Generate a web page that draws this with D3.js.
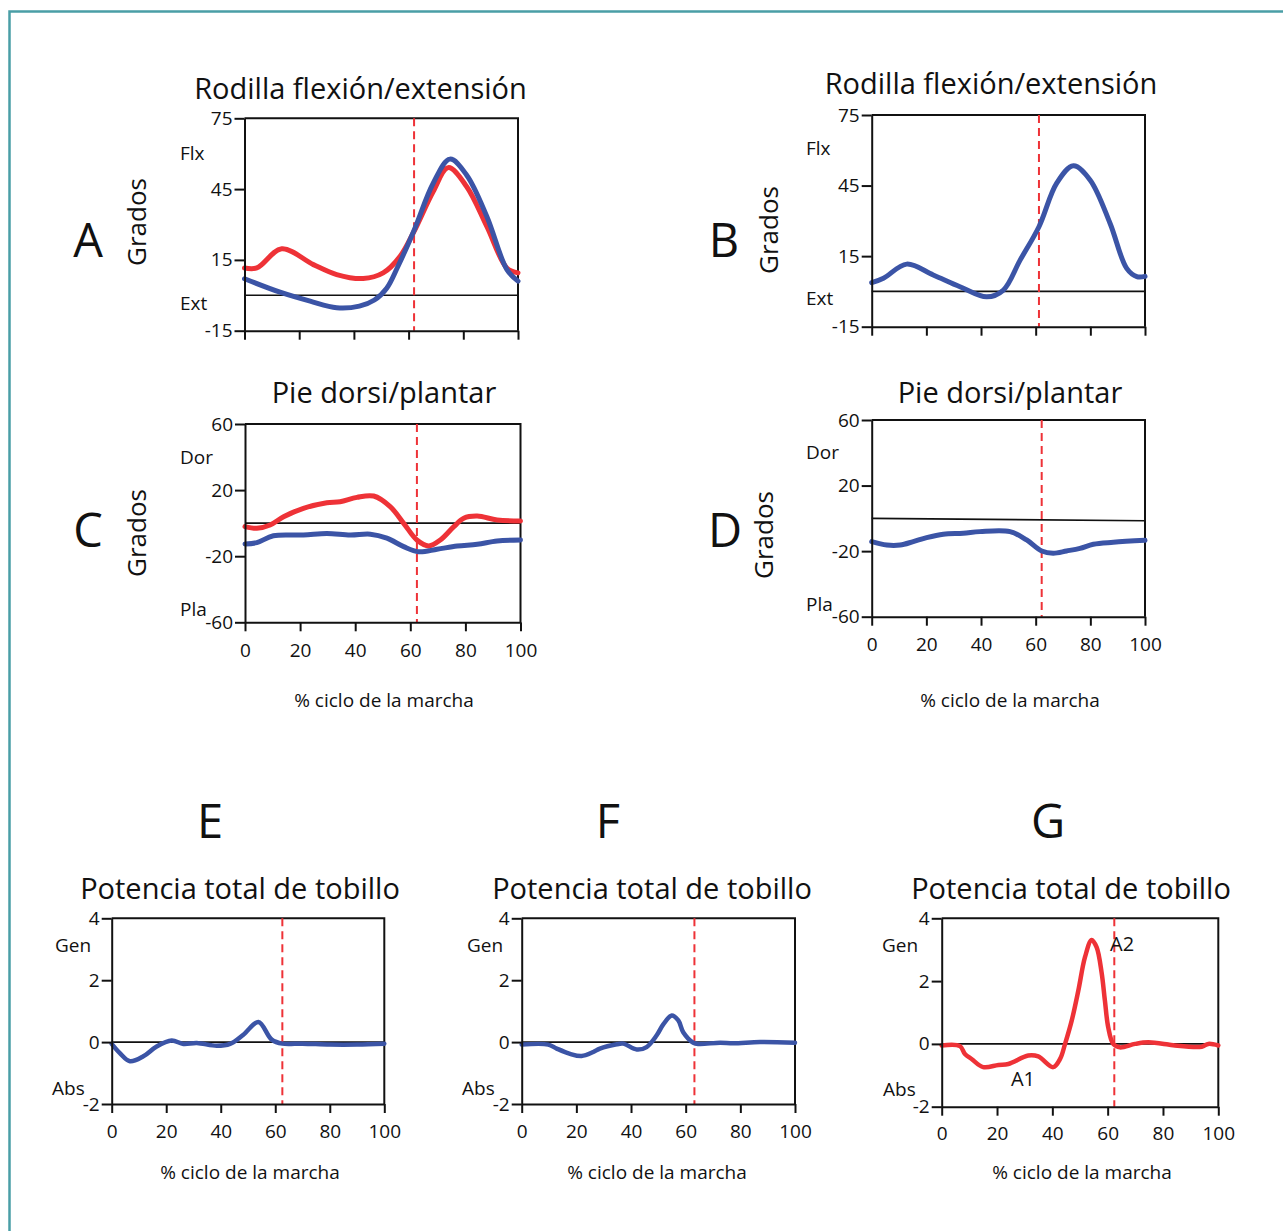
<!DOCTYPE html>
<html>
<head>
<meta charset="utf-8">
<script src="https://cdn.jsdelivr.net/npm/d3@7"></script>
<style>
  body { margin: 0; background: #fff; }
  text { font-family: "Open Sans", "Noto Sans", sans-serif; fill: #111; }
</style>
</head>
<body>
<div id="canvas"></div>
<script>
"use strict"

/* Tick values */
let pctTicks = [0, 20, 40, 60, 80, 100];
let kneeTicks = [-15, 15, 45, 75];
let footTicks = [-60, -20, 20, 60];
let powerTicks = [-2, 0, 2, 4];

/* Series: [% gait cycle, value] */
let kneeRedA = [[0, 11.6], [4.5, 11.6], [13.6, 19.7], [25.2, 13], [33.7, 8.8], [43.4, 7.1],
    [50.7, 9.5], [56.9, 16.5], [62, 27.1], [69, 44], [74.5, 54.1], [81.2, 46.1],
    [88.6, 29.2], [95.9, 11.6], [100, 9.5]];
let kneeBlueA = [[0, 7], [13, 1.3], [24, -2.5], [33.7, -5.3], [42, -4.6], [47.5, -2],
    [52, 3], [56, 12], [62.1, 27.8], [69, 47.5], [75.1, 57.7], [81.2, 51], [88.6, 33.4],
    [95.9, 11], [100, 6]];
let kneeBlueB = [[0, 3.7], [4.3, 5.6], [12.8, 11.6], [22.5, 7], [32.3, 2], [42.1, -2.3],
    [48.2, 0.6], [54.3, 13.3], [61.2, 27.5], [67.7, 46], [73.8, 53.4], [79.9, 47.4],
    [87.2, 29], [93.3, 9.8], [97, 6.3], [100, 6.4]];
let footRedC = [[0, -2.1], [4.3, -3.1], [9.1, -1.1], [14, 3.9], [21.2, 9], [29.7, 12.4],
    [34.5, 13], [40.6, 15.6], [46.7, 16.4], [52.7, 10], [57.6, -0.1], [62.4, -10.2],
    [66.7, -13.8], [70.9, -10.2], [75.8, -2.1], [79.4, 3], [84.3, 4.3], [91.5, 1.9], [100, 1.3]];
let footBlueC = [[0, -12.6], [4.3, -11.8], [10.3, -7.6], [21.2, -7.2], [29.7, -6.2],
    [38.2, -7.2], [45.5, -6.7], [51.5, -9.1], [57.6, -14.2], [63, -17.3], [69.7, -15.8],
    [77, -13.8], [84.3, -12.8], [91.5, -10.8], [100, -10.2]];
let footBlueD = [[0, -14.2], [5.5, -16.3], [10.4, -16.3], [15.2, -14.2], [20.1, -11.8],
    [26.2, -9.7], [33.5, -9.1], [39.6, -8.1], [50.6, -8.1], [56.7, -13.2], [62.2, -19.9],
    [66.4, -21.3], [71.3, -19.9], [76.2, -18.3], [81.1, -15.8], [88.4, -14.6], [100, -13.4]];
let powerBlueE = [[0, -0.06], [3, -0.36], [6.7, -0.62], [11.6, -0.46], [16.5, -0.14],
    [22, 0.05], [26.3, -0.06], [31.2, -0.03], [38.5, -0.12], [43.4, -0.06], [48.3, 0.24],
    [53.8, 0.65], [58.7, 0.08], [62.6, -0.05], [70, -0.05], [80, -0.08], [90, -0.08], [100, -0.05]];
let powerBlueF = [[0, -0.08], [9.7, -0.08], [12.8, -0.21], [17.7, -0.38], [21.9, -0.45],
    [26.2, -0.32], [28.6, -0.21], [34.8, -0.07], [37.2, -0.05], [42.1, -0.24], [45.7, -0.16],
    [49.4, 0.22], [51.8, 0.57], [54.9, 0.86], [57.3, 0.7], [59.1, 0.32], [62.8, -0.02],
    [64.9, -0.06], [72.6, -0.02], [77.4, -0.04], [87.2, 0.0], [100, -0.02]];
let powerRedG = [[0, -0.05], [6.6, -0.07], [8.4, -0.32], [10.8, -0.48], [15, -0.74],
    [20.5, -0.67], [24.1, -0.64], [31.3, -0.37], [34.9, -0.4], [40.3, -0.74], [42.8, -0.48],
    [44.6, 0], [47, 0.74], [49.4, 1.7], [51.8, 2.76], [54.2, 3.31], [56, 3.08], [57.8, 2.28],
    [59, 1.38], [60.2, 0.53], [62, 0], [64.4, -0.11], [69.9, 0], [74.7, 0.05], [81.9, -0.02],
    [84.3, -0.05], [94, -0.09], [96.4, 0], [100, -0.05]];

/* Toe-off (dashed) position per panel A..G, and reference line ends */
let toeOff = [62, 61.2, 62.4, 62.2, 62.6, 63.2, 62.4];
let zeroLine = [0, 0];
let zeroLineD = [0, -1.5];

/* Colours */
let blue = "#3b54a6";
let red = "#ee3237";

/* Drawing canvas */
let svgWidth = 1283;
let svgHeight = 1231;
let svg = d3.select("#canvas")
    .append("svg")
    .attr("width", svgWidth)
    .attr("height", svgHeight);

/* Teal page border */
svg.append("rect")
    .attr("x", 9.5)
    .attr("y", 11.5)
    .attr("width", 1400)
    .attr("height", 1400)
    .attr("fill", "none")
    .attr("stroke", "#4a9ea6")
    .attr("stroke-width", 2.5);

/* plain hyphen for negatives, as in the original */
let plainNumber = function (d) { return String(d); };

let panels = [
    { letter: "A", left: 244.5, right: 518, top: 118.3, bottom: 330.7, domain: [-15, 75], ticks: kneeTicks,
      series: [[kneeRedA, red], [kneeBlueA, blue]], ref: zeroLine, xLabels: false, xPad: 11,
      title: "Rodilla flexión/extensión", titleX: 360.5, titleY: 99,
      letterX: 88, letterY: 257, grados: [146, 222],
      sides: [["Flx", 180, 160], ["Ext", 180, 310]] },
    { letter: "B", left: 871.7, right: 1145, top: 115, bottom: 326.7, domain: [-15, 75], ticks: kneeTicks,
      series: [[kneeBlueB, blue]], ref: zeroLine, xLabels: false, xPad: 11,
      title: "Rodilla flexión/extensión", titleX: 991, titleY: 94,
      letterX: 724, letterY: 257, grados: [778, 230],
      sides: [["Flx", 806, 155], ["Ext", 806, 305]] },
    { letter: "C", left: 245, right: 520.5, top: 424, bottom: 622.3, domain: [-60, 60], ticks: footTicks,
      series: [[footRedC, red], [footBlueC, blue]], ref: zeroLine, xLabels: true, xPad: 12,
      title: "Pie dorsi/plantar", titleX: 384, titleY: 403,
      letterX: 88, letterY: 547, grados: [146, 533],
      sides: [["Dor", 180, 464], ["Pla", 180, 616]], xTitle: [384, 707] },
    { letter: "D", left: 871.7, right: 1145, top: 420, bottom: 616.7, domain: [-60, 60], ticks: footTicks,
      series: [[footBlueD, blue]], ref: zeroLineD, xLabels: true, xPad: 12,
      title: "Pie dorsi/plantar", titleX: 1010, titleY: 403,
      letterX: 725, letterY: 547, grados: [773, 535],
      sides: [["Dor", 806, 459], ["Pla", 806, 611]], xTitle: [1010, 707] },
    { letter: "E", left: 111.7, right: 384.3, top: 918.3, bottom: 1104, domain: [-2, 4], ticks: powerTicks,
      series: [[powerBlueE, blue]], ref: zeroLine, xLabels: true, xPad: 12,
      title: "Potencia total de tobillo", titleX: 240, titleY: 899,
      letterX: 210, letterY: 838, grados: null,
      sides: [["Gen", 55, 952], ["Abs", 52, 1095]], xTitle: [250, 1179] },
    { letter: "F", left: 521.7, right: 795, top: 918.3, bottom: 1104, domain: [-2, 4], ticks: powerTicks,
      series: [[powerBlueF, blue]], ref: zeroLine, xLabels: true, xPad: 12,
      title: "Potencia total de tobillo", titleX: 652, titleY: 899,
      letterX: 608, letterY: 838, grados: null,
      sides: [["Gen", 467, 952], ["Abs", 462, 1095]], xTitle: [657, 1179] },
    { letter: "G", left: 941.7, right: 1218.3, top: 918.3, bottom: 1106.7, domain: [-2, 4], ticks: powerTicks,
      series: [[powerRedG, red]], ref: zeroLine, xLabels: true, xPad: 11,
      title: "Potencia total de tobillo", titleX: 1071, titleY: 899,
      letterX: 1048, letterY: 838, grados: null,
      sides: [["Gen", 882, 952], ["Abs", 883, 1096]], xTitle: [1082, 1179],
      notes: [["A1", 29.4, -1.17], ["A2", 65.2, 3.13]] }
];

panels.forEach(function (p, i) {
    let x = d3.scaleLinear().domain([0, 100]).range([p.left, p.right]);
    let y = d3.scaleLinear().domain(p.domain).range([p.bottom, p.top]);
    let g = svg.append("g");

    /* frame (top and right) */
    g.append("path")
        .attr("d", "M" + x(0) + "," + y(p.domain[1]) + "H" + x(100) + "V" + y(p.domain[0]))
        .attr("fill", "none")
        .attr("stroke", "#111")
        .attr("stroke-width", 2);

    /* horizontal reference line */
    g.append("line")
        .attr("x1", x(0)).attr("x2", x(100))
        .attr("y1", y(p.ref[0])).attr("y2", y(p.ref[1]))
        .attr("stroke", "#111")
        .attr("stroke-width", 1.6);

    /* toe-off marker */
    g.append("line")
        .attr("x1", x(toeOff[i])).attr("x2", x(toeOff[i]))
        .attr("y1", y(p.domain[1])).attr("y2", y(p.domain[0]))
        .attr("stroke", red)
        .attr("stroke-width", 2)
        .attr("stroke-dasharray", "8,5");

    /* curves */
    let line = d3.line()
        .x(function (d) { return x(d[0]); })
        .y(function (d) { return y(d[1]); })
        .curve(d3.curveCatmullRom.alpha(0.5));
    p.series.forEach(function (s) {
        g.append("path")
            .attr("d", line(s[0]))
            .attr("fill", "none")
            .attr("stroke", s[1])
            .attr("stroke-width", i >= 4 ? 4.5 : 5)
            .attr("stroke-linejoin", "round")
            .attr("stroke-linecap", "round");
    });

    /* axes */
    let yAxis = g.append("g")
        .attr("transform", "translate(" + x(0) + ",0)")
        .call(d3.axisLeft(y).tickValues(p.ticks).tickSize(10).tickSizeOuter(0).tickPadding(2)
            .tickFormat(plainNumber));
    let xAxis = g.append("g")
        .attr("transform", "translate(0," + y(p.domain[0]) + ")")
        .call(d3.axisBottom(x).tickValues(pctTicks).tickSize(9).tickSizeOuter(0).tickPadding(p.xPad)
            .tickFormat(p.xLabels ? plainNumber : ""));
    [yAxis, xAxis].forEach(function (a) {
        a.attr("font-family", null).attr("font-size", 19);
        a.selectAll("path, line").attr("stroke", "#111").attr("stroke-width", 2);
        a.selectAll("text").attr("fill", "#111");
    });

    /* titles and labels */
    g.append("text")
        .attr("x", p.titleX).attr("y", p.titleY)
        .attr("text-anchor", "middle")
        .attr("font-size", 29)
        .text(p.title);
    g.append("text")
        .attr("x", p.letterX).attr("y", p.letterY)
        .attr("text-anchor", "middle")
        .attr("font-size", 47)
        .text(p.letter);
    if (p.grados) {
        g.append("text")
            .attr("transform", "translate(" + p.grados[0] + "," + p.grados[1] + ") rotate(-90)")
            .attr("text-anchor", "middle")
            .attr("font-size", 26)
            .text("Grados");
    }
    p.sides.forEach(function (s) {
        g.append("text")
            .attr("x", s[1]).attr("y", s[2])
            .attr("font-size", 19)
            .text(s[0]);
    });
    if (p.xTitle) {
        g.append("text")
            .attr("x", p.xTitle[0]).attr("y", p.xTitle[1])
            .attr("text-anchor", "middle")
            .attr("font-size", 19)
            .text("% ciclo de la marcha");
    }
    if (p.notes) {
        p.notes.forEach(function (n) {
            g.append("text")
                .attr("x", x(n[1])).attr("y", y(n[2]))
                .attr("text-anchor", "middle")
                .attr("dominant-baseline", "middle")
                .attr("font-size", 20)
                .text(n[0]);
        });
    }
});
</script>
</body>
</html>
